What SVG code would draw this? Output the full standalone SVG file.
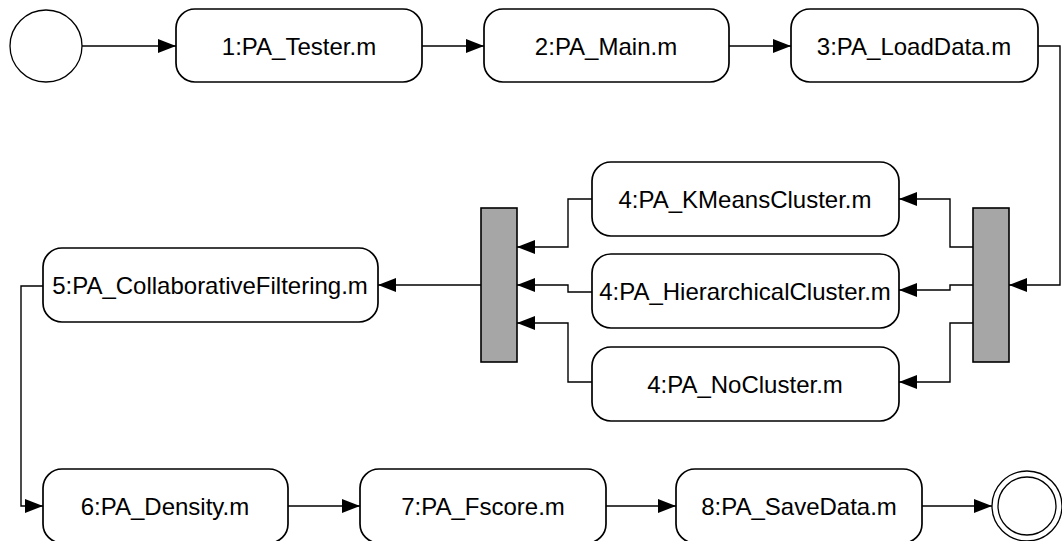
<svg xmlns="http://www.w3.org/2000/svg" width="1062" height="541" viewBox="0 0 1062 541">
<style>
.box{fill:#fff;stroke:#000;stroke-width:1.7}
.bar{fill:#a6a6a6;stroke:#000;stroke-width:1.6}
.circ{fill:#fff;stroke:#000;stroke-width:1.3}
.lbl{font-family:"Liberation Sans",Arial,sans-serif;font-size:24px;fill:#000;text-anchor:middle;dominant-baseline:central}
.con{fill:none;stroke:#000;stroke-width:1.4}
</style>
<defs>
<marker id="arr" markerUnits="userSpaceOnUse" markerWidth="20" markerHeight="14" refX="18" refY="7" orient="auto">
<path d="M0,0 L18,7 L0,14 Z" fill="#000"/>
</marker>
</defs>
<g id="connectors">
<path class="con" d="M82,46 H176" marker-end="url(#arr)"/>
<path class="con" d="M422,46 H484" marker-end="url(#arr)"/>
<path class="con" d="M729,46 H791" marker-end="url(#arr)"/>
<path class="con" d="M1038,46 H1060 V285 H1009" marker-end="url(#arr)"/>
<path class="con" d="M973,247 H950 V199 H899" marker-end="url(#arr)"/>
<path class="con" d="M973,285 H950 V290 H899" marker-end="url(#arr)"/>
<path class="con" d="M973,323 H950 V382 H899" marker-end="url(#arr)"/>
<path class="con" d="M592,199 H568 V247 H517" marker-end="url(#arr)"/>
<path class="con" d="M592,292 H568 V285 H517" marker-end="url(#arr)"/>
<path class="con" d="M592,382 H568 V323 H517" marker-end="url(#arr)"/>
<path class="con" d="M481,285 H378" marker-end="url(#arr)"/>
<path class="con" d="M43,286 H21 V506 H43" marker-end="url(#arr)"/>
<path class="con" d="M288,506 H360" marker-end="url(#arr)"/>
<path class="con" d="M606,506 H676" marker-end="url(#arr)"/>
<path class="con" d="M922,506 H992" marker-end="url(#arr)"/>
</g>
<g id="start"><circle class="circ" cx="46" cy="46" r="36"/></g>
<g id="n1"><rect class="box" x="176" y="9" width="246" height="73" rx="19"/><text class="lbl" x="299" y="46">1:PA_Tester.m</text></g>
<g id="n2"><rect class="box" x="484" y="9" width="245" height="73" rx="19"/><text class="lbl" x="606" y="46">2:PA_Main.m</text></g>
<g id="n3"><rect class="box" x="791" y="9" width="247" height="73" rx="19"/><text class="lbl" x="914" y="46">3:PA_LoadData.m</text></g>
<g id="forkR"><rect class="bar" x="973" y="208" width="36" height="154"/></g>
<g id="n4a"><rect class="box" x="592" y="162" width="307" height="74" rx="19"/><text class="lbl" x="745" y="199">4:PA_KMeansCluster.m</text></g>
<g id="n4b"><rect class="box" x="592" y="254" width="307" height="74" rx="19"/><text class="lbl" x="745" y="291">4:PA_HierarchicalCluster.m</text></g>
<g id="n4c"><rect class="box" x="592" y="347" width="307" height="74" rx="19"/><text class="lbl" x="745" y="384">4:PA_NoCluster.m</text></g>
<g id="joinL"><rect class="bar" x="481" y="208" width="36" height="154"/></g>
<g id="n5"><rect class="box" x="43" y="248" width="335" height="74" rx="19"/><text class="lbl" x="210" y="285">5:PA_CollaborativeFiltering.m</text></g>
<g id="n6"><rect class="box" x="43" y="469" width="245" height="74" rx="19"/><text class="lbl" x="165" y="506">6:PA_Density.m</text></g>
<g id="n7"><rect class="box" x="360" y="469" width="246" height="74" rx="19"/><text class="lbl" x="483" y="506">7:PA_Fscore.m</text></g>
<g id="n8"><rect class="box" x="676" y="469" width="246" height="74" rx="19"/><text class="lbl" x="799" y="506">8:PA_SaveData.m</text></g>
<g id="end"><circle class="circ" cx="1027" cy="506" r="35"/><circle class="circ" cx="1027" cy="506" r="29"/></g>
</svg>
